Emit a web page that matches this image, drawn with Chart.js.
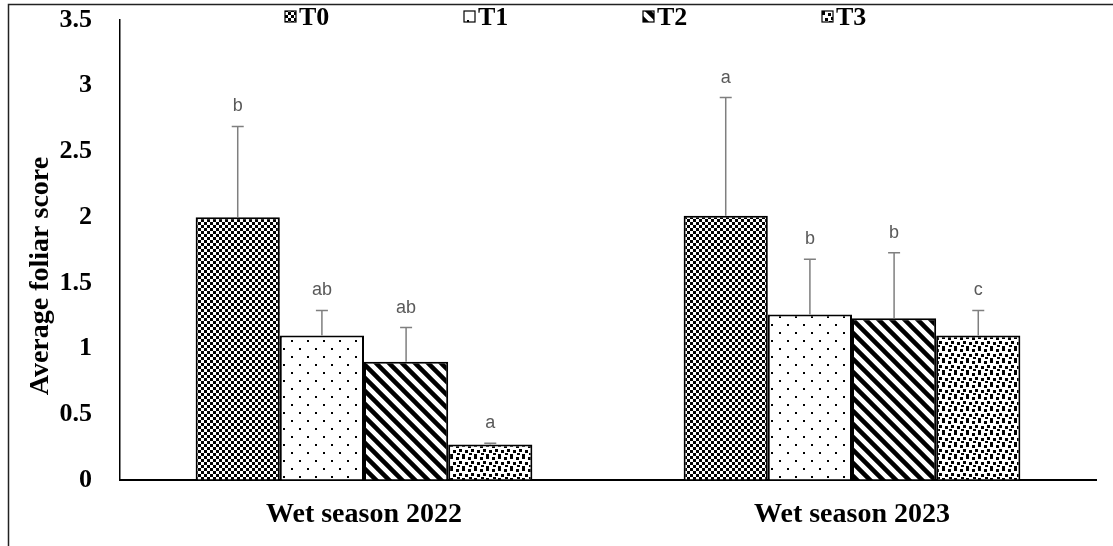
<!DOCTYPE html>
<html>
<head>
    <meta charset="utf-8" />
    <title>Average foliar score</title>
    <script src="https://cdn.jsdelivr.net/npm/chart.js"></script>
    <style>
        body { margin: 0; background: #fff; }
    </style>
</head>
<body>
    <div style="width: 1113px; height: 546px;">
        <canvas id="myChart" width="1113" height="546"></canvas>
    </div>

    <script>
        // data
        const seasons = ['Wet season 2022', 'Wet season 2023'];
        const treatments = ['T0', 'T1', 'T2', 'T3'];
        const t0 = [2.0, 2.01];
        const t1 = [1.1, 1.26];
        const t2 = [0.9, 1.23];
        const t3 = [0.27, 1.1];
        // upper error (sd) per treatment
        const t0Err = [0.69, 0.9];
        const t1Err = [0.19, 0.42];
        const t2Err = [0.26, 0.5];
        const t3Err = [0.01, 0.19];
        // significance letters
        const t0Sig = ['b', 'a'];
        const t1Sig = ['ab', 'b'];
        const t2Sig = ['ab', 'b'];
        const t3Sig = ['a', 'c'];
        const yTicks = [0, 0.5, 1, 1.5, 2, 2.5, 3, 3.5];
        const yTitle = 'Average foliar score';

        const serif = '"Liberation Serif", "Times New Roman", serif';

        function makePattern(size, draw) {
            const c = document.createElement('canvas');
            c.width = size; c.height = size;
            const g = c.getContext('2d');
            g.fillStyle = '#fff';
            g.fillRect(0, 0, size, size);
            g.fillStyle = '#000';
            g.strokeStyle = '#000';
            draw(g, size);
            return document.getElementById('myChart').getContext('2d').createPattern(c, 'repeat');
        }

        // T0: small checkerboard
        const patChecker = makePattern(6, (g) => {
            g.fillRect(0, 0, 3, 3);
            g.fillRect(3, 3, 3, 3);
        });
        // T1: sparse dots
        const patDots = makePattern(16, (g) => {
            g.fillRect(3, 4, 2, 2);
            g.fillRect(11, 12, 2, 2);
        });
        // T2: wide downward diagonal
        const patDiag = makePattern(13, (g, s) => {
            g.lineWidth = 4.5;
            g.beginPath();
            g.moveTo(-2, -2); g.lineTo(s + 2, s + 2);
            g.moveTo(-2, s - 2); g.lineTo(2, s + 2);
            g.moveTo(s - 2, -2); g.lineTo(s + 2, 2);
            g.stroke();
        });
        // T3: small confetti squares
        const patConfetti = makePattern(12, (g) => {
            g.fillRect(0, 1, 3, 3);
            g.fillRect(6, 0, 3, 3);
            g.fillRect(3, 5, 3, 3);
            g.fillRect(9, 6, 3, 3);
            g.fillRect(1, 9, 3, 2);
            g.fillRect(6, 10, 3, 2);
        });

        const patterns = [patChecker, patDots, patDiag, patConfetti];
        const values = [t0, t1, t2, t3];
        const errors = [t0Err, t1Err, t2Err, t3Err];
        const letters = [t0Sig, t1Sig, t2Sig, t3Sig];

        const datasets = treatments.map((name, i) => ({
            label: name,
            data: values[i],
            backgroundColor: patterns[i],
            borderColor: '#000',
            borderWidth: 2,
            categoryPercentage: 0.69,
            barPercentage: 1.0
        }));

        // outer frame of the figure + y title (sits a bit below the axis middle)
        const framePlugin = {
            id: 'frame',
            beforeDraw(chart) {
                const ctx = chart.ctx;
                ctx.save();
                ctx.fillStyle = '#fff';
                ctx.fillRect(0, 0, chart.width, chart.height);
                ctx.strokeStyle = '#222';
                ctx.lineWidth = 1.5;
                ctx.beginPath();
                ctx.moveTo(8.5, chart.height);
                ctx.lineTo(8.5, 4.5);
                ctx.lineTo(chart.width, 4.5);
                ctx.stroke();

                ctx.translate(41, 276);
                ctx.rotate(-Math.PI / 2);
                ctx.fillStyle = '#000';
                ctx.font = 'bold 28px ' + serif;
                ctx.textAlign = 'center';
                ctx.textBaseline = 'middle';
                ctx.fillText(yTitle, 0, 0);
                ctx.restore();
            }
        };

        // error bars and letters
        const errorBarPlugin = {
            id: 'errorBars',
            afterDatasetsDraw(chart) {
                const ctx = chart.ctx;
                const y = chart.scales.y;
                ctx.save();
                chart.data.datasets.forEach((ds, i) => {
                    const meta = chart.getDatasetMeta(i);
                    meta.data.forEach((bar, j) => {
                        const top = y.getPixelForValue(ds.data[j] + errors[i][j]);
                        ctx.strokeStyle = '#7f7f7f';
                        ctx.lineWidth = 1.5;
                        ctx.beginPath();
                        ctx.moveTo(bar.x, bar.y);
                        ctx.lineTo(bar.x, top);
                        ctx.moveTo(bar.x - 6, top);
                        ctx.lineTo(bar.x + 6, top);
                        ctx.stroke();
                        ctx.fillStyle = '#595959';
                        ctx.font = '18px "Liberation Sans", Arial, sans-serif';
                        ctx.textAlign = 'center';
                        ctx.textBaseline = 'middle';
                        ctx.fillText(letters[i][j], bar.x, top - 20);
                    });
                });
                ctx.restore();
            }
        };

        // legend inside the plot, along the top
        const legendPlugin = {
            id: 'insideLegend',
            afterDraw(chart) {
                const ctx = chart.ctx;
                ctx.save();
                chart.data.datasets.forEach((ds, i) => {
                    const x = 285 + i * 179;
                    const yc = 17;
                    ctx.fillStyle = ds.backgroundColor;
                    ctx.fillRect(x, yc - 6, 11, 11);
                    ctx.strokeStyle = '#000';
                    ctx.lineWidth = 1.2;
                    ctx.strokeRect(x, yc - 6, 11, 11);
                    ctx.fillStyle = '#000';
                    ctx.font = 'bold 26px ' + serif;
                    ctx.textAlign = 'left';
                    ctx.textBaseline = 'middle';
                    ctx.fillText(ds.label, x + 14, yc + 1);
                });
                ctx.restore();
            }
        };

        const ctx = document.getElementById('myChart').getContext('2d');
        new Chart(ctx, {
            type: 'bar',
            data: {
                labels: seasons,
                datasets: datasets
            },
            options: {
                responsive: false,
                animation: false,
                layout: { padding: { top: 20, right: 17, left: 0, bottom: 0 } },
                plugins: {
                    legend: { display: false },
                    tooltip: { enabled: false }
                },
                scales: {
                    x: {
                        grid: { display: false, drawTicks: false },
                        border: { display: true, color: '#000', width: 2 },
                        ticks: {
                            color: '#000',
                            font: { family: serif, size: 28, weight: 'bold' },
                            padding: 18
                        },
                        afterFit(scale) { scale.height = 66; }
                    },
                    y: {
                        min: 0,
                        max: 3.5,
                        afterBuildTicks(scale) {
                            scale.ticks = yTicks.map(v => ({ value: v }));
                        },
                        grid: {
                            display: true,
                            drawOnChartArea: false,
                            drawTicks: true,
                            tickLength: 24,
                            tickColor: 'rgba(0,0,0,0)'
                        },
                        border: { display: true, color: '#000', width: 1.5 },
                        ticks: {
                            color: '#000',
                            font: { family: serif, size: 26, weight: 'bold' },
                            padding: 4,
                            callback: (v) => String(v)
                        },
                        title: { display: false },
                        afterFit(scale) { scale.width = 120; }
                    }
                }
            },
            plugins: [framePlugin, errorBarPlugin, legendPlugin]
        });
    </script>
</body>
</html>
